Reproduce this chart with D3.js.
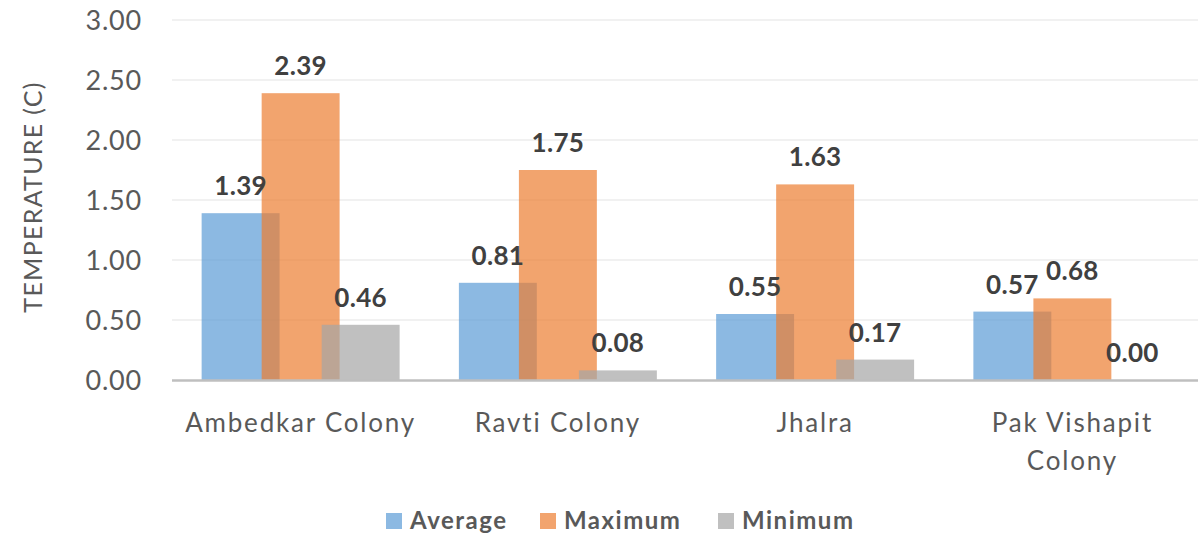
<!DOCTYPE html>
<html>
<head>
<meta charset="utf-8">
<script src="https://cdn.jsdelivr.net/npm/d3@7"></script>
<style>
  html, body { margin: 0; padding: 0; background: #fff; }
  svg { display: block; font-family: Lato, "Open Sans", sans-serif; }
</style>
</head>
<body>
<svg id="chart" width="1198" height="537"></svg>
<script>
// Temperature differences by locality
const categories = ["Ambedkar Colony", "Ravti Colony", "Jhalra", "Pak Vishapit Colony"];
const seriesNames = ["Average", "Maximum", "Minimum"];
const averageValues = [1.39, 0.81, 0.55, 0.57];
const maximumValues = [2.39, 1.75, 1.63, 0.68];
const minimumValues = [0.46, 0.08, 0.17, 0.00];
const yTicks = [0, 0.5, 1, 1.5, 2, 2.5, 3];
const seriesColors = ["#5B9BD5", "#ED7D31", "#A5A5A5"];

const series = [averageValues, maximumValues, minimumValues];

const svg = d3.select("#chart");
const W = 1198, H = 537;
const plot = { left: 172, right: 1201, top: 20, bottom: 380 };

const x = d3.scaleBand().domain(categories).range([plot.left, plot.right]).padding(0);
const y = d3.scaleLinear().domain([0, 3]).range([plot.bottom, plot.top]);

const barW = x.bandwidth() * 0.303;
const step = barW * 0.77;
const offset = d3.scalePoint().domain(seriesNames).range([-step, step]);

// gridlines
svg.append("g")
  .selectAll("line")
  .data(yTicks.filter(d => d > 0))
  .join("line")
  .attr("x1", plot.left).attr("x2", W)
  .attr("y1", d => y(d)).attr("y2", d => y(d))
  .attr("stroke", "#EDEDED").attr("stroke-width", 1.5);

// y axis tick labels
const yAxis = d3.axisLeft(y).tickValues(yTicks).tickFormat(d3.format(".2f")).tickSize(0).tickPadding(0);
const gy = svg.append("g").attr("transform", `translate(142,0)`).call(yAxis);
gy.select(".domain").remove();
gy.selectAll("text")
  .attr("font-family", "Lato, sans-serif")
  .attr("font-size", 27)
  .attr("letter-spacing", 0.8)
  .attr("fill", "#595959")
  .attr("dy", "0.36em");

// bars
series.forEach((vals, si) => {
  svg.append("g")
    .selectAll("rect")
    .data(vals.map((v, i) => ({ cat: categories[i], v })))
    .join("rect")
    .attr("x", d => x(d.cat) + x.bandwidth() / 2 + offset(seriesNames[si]) - barW / 2)
    .attr("y", d => y(d.v))
    .attr("width", barW)
    .attr("height", d => y(0) - y(d.v))
    .attr("fill", seriesColors[si])
    .attr("fill-opacity", 0.7);
});

// x axis baseline
svg.append("line")
  .attr("x1", plot.left).attr("x2", W)
  .attr("y1", y(0) + 0.5).attr("y2", y(0) + 0.5)
  .attr("stroke", "#BFBFBF").attr("stroke-width", 2.5);

// value labels
series.forEach((vals, si) => {
  svg.append("g")
    .selectAll("text")
    .data(vals.map((v, i) => ({ cat: categories[i], v })))
    .join("text")
    .attr("x", d => x(d.cat) + x.bandwidth() / 2 + offset(seriesNames[si]))
    .attr("y", d => y(d.v) - 18)
    .attr("text-anchor", "middle")
    .attr("font-family", "Lato, sans-serif")
    .attr("font-weight", "bold")
    .attr("font-size", 26)
    .attr("letter-spacing", 0.3)
    .attr("fill", "#404040")
    .text(d => d3.format(".2f")(d.v));
});

// category labels (wrapped to the band width)
const catLines = { "Pak Vishapit Colony": ["Pak Vishapit", "Colony"] };
const gx = svg.append("g");
categories.forEach(c => {
  const lines = catLines[c] || [c];
  const t = gx.append("text")
    .attr("text-anchor", "middle")
    .attr("font-family", "Lato, sans-serif")
    .attr("font-size", 26)
    .attr("letter-spacing", 1.8)
    .attr("fill", "#595959");
  lines.forEach((ln, li) => {
    t.append("tspan")
      .attr("x", x(c) + x.bandwidth() / 2)
      .attr("y", 432 + li * 38)
      .text(ln);
  });
});

// y axis title
svg.append("text")
  .attr("transform", "translate(42,197) rotate(-90)")
  .attr("text-anchor", "middle")
  .attr("font-family", "Lato, sans-serif")
  .attr("font-size", 25)
  .attr("letter-spacing", 1.3)
  .attr("fill", "#595959")
  .text("TEMPERATURE (C)");

// legend
const legendX = [386, 540, 718];
const lg = svg.append("g");
seriesNames.forEach((s, i) => {
  lg.append("rect")
    .attr("x", legendX[i]).attr("y", 513)
    .attr("width", 16).attr("height", 16)
    .attr("fill", seriesColors[i]).attr("fill-opacity", 0.7);
  lg.append("text")
    .attr("x", legendX[i] + 24).attr("y", 529)
    .attr("font-family", "Lato, sans-serif")
    .attr("font-weight", "bold")
    .attr("font-size", 24)
    .attr("letter-spacing", 1.5)
    .attr("fill", "#595959")
    .text(s);
});
</script>
</body>
</html>
